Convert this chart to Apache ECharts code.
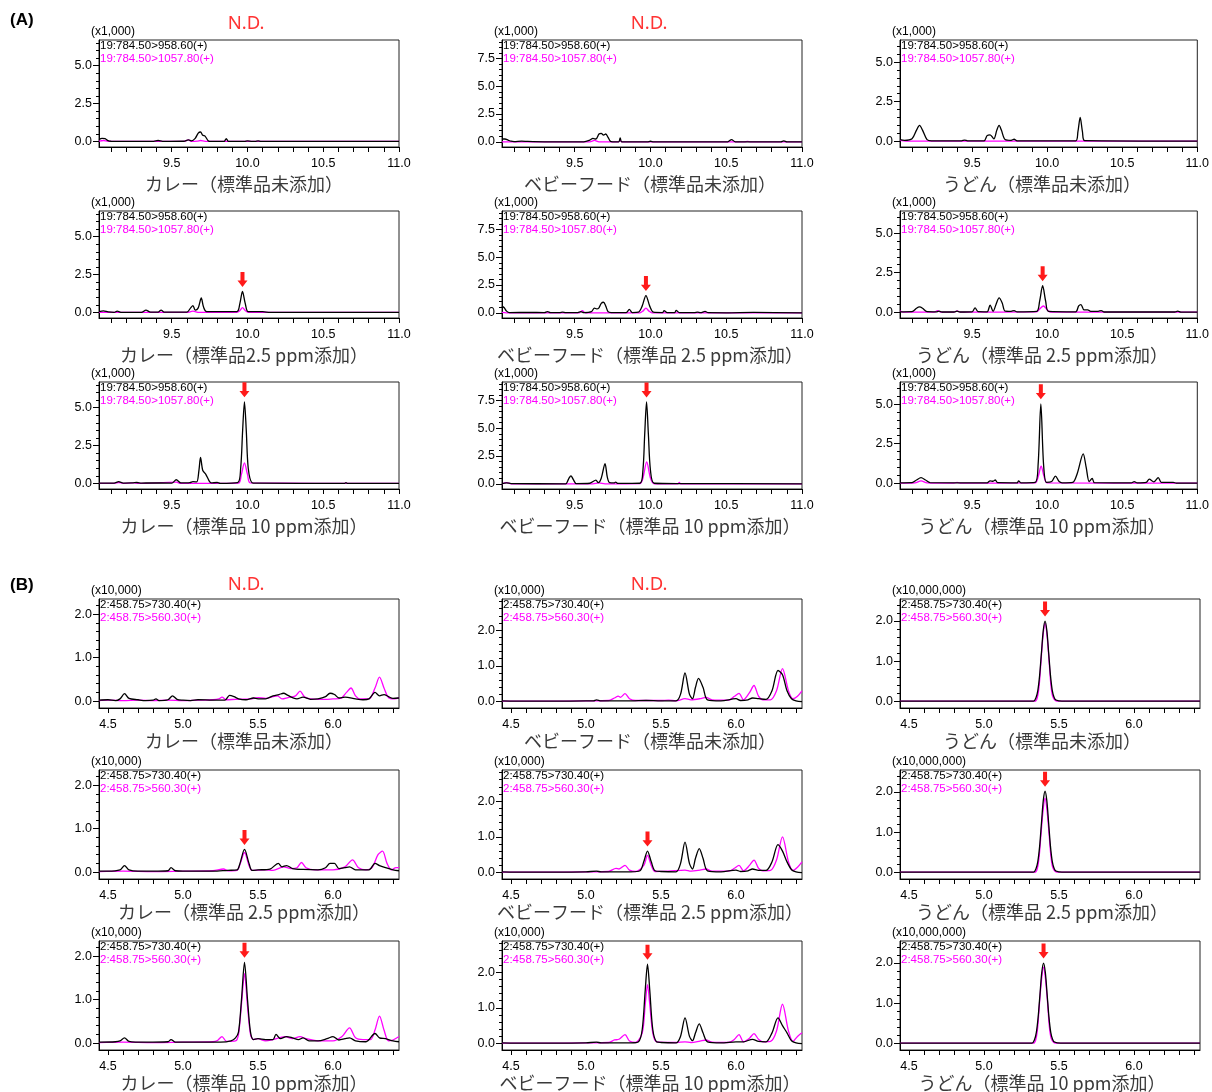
<!DOCTYPE html>
<html><head><meta charset="utf-8">
<script src="https://cdn.jsdelivr.net/npm/echarts@6/dist/echarts.min.js"></script>
<style>html,body{margin:0;padding:0;background:#fff}#c{width:1212px;height:1092px}</style>
</head><body><div id="c"></div>
<script>
// ---------------- DATA ----------------
const sectionLabels = ['(A)', '(B)'];
const titlesA = [
  ['カレー（標準品未添加）', 'カレー（標準品2.5 ppm添加）', 'カレー（標準品 10 ppm添加）'],
  ['ベビーフード（標準品未添加）', 'ベビーフード（標準品 2.5 ppm添加）', 'ベビーフード（標準品 10 ppm添加）'],
  ['うどん（標準品未添加）', 'うどん（標準品 2.5 ppm添加）', 'うどん（標準品 10 ppm添加）']
];
const titlesB = [
  ['カレー（標準品未添加）', 'カレー（標準品 2.5 ppm添加）', 'カレー（標準品 10 ppm添加）'],
  ['ベビーフード（標準品未添加）', 'ベビーフード（標準品 2.5 ppm添加）', 'ベビーフード（標準品 10 ppm添加）'],
  ['うどん（標準品未添加）', 'うどん（標準品 2.5 ppm添加）', 'うどん（標準品 10 ppm添加）']
];
const traceNamesA = ['19:784.50>958.60(+)', '19:784.50>1057.80(+)'];
const traceNamesB = ['2:458.75>730.40(+)', '2:458.75>560.30(+)'];
const scaleA = ['(x1,000)', '(x1,000)', '(x1,000)'];
const scaleB = ['(x10,000)', '(x10,000)', '(x10,000,000)'];
const ndMark = 'N.D.';

const xLabelsA = [9.5, 10.0, 10.5, 11.0];
const xTicksA = [9.1,9.2,9.3,9.4,9.5,9.6,9.7,9.8,9.9,10.0,10.1,10.2,10.3,10.4,10.5,10.6,10.7,10.8,10.9,11.0];
const xLabelsB = [4.5, 5.0, 5.5, 6.0];
const xTicksB = [4.5,4.6,4.7,4.8,4.9,5.0,5.1,5.2,5.3,5.4,5.5,5.6,5.7,5.8,5.9,6.0,6.1,6.2,6.3,6.4];
const yLabelsA = [[0, 2.5, 5.0], [0, 2.5, 5.0, 7.5], [0, 2.5, 5.0]];
const yMinorA = [[0.5,1,1.5,2,3,3.5,4,4.5,5.5,6,6.5], [0.5,1,1.5,2,3,3.5,4,4.5,5.5,6,6.5,7,8,8.5,9], [0.5,1,1.5,2,3,3.5,4,4.5,5.5,6]];
const yLabelsB = [[0, 1.0, 2.0], [0, 1.0, 2.0], [0, 1.0, 2.0]];
const yMinorB = [[0.2,0.4,0.6,0.8,1.2,1.4,1.6,1.8,2.2], [0.2,0.4,0.6,0.8,1.2,1.4,1.6,1.8,2.2,2.4,2.6,2.8], [0.2,0.4,0.6,0.8,1.2,1.4,1.6,1.8,2.2,2.4]];

// (A) curry
const A_curry0_q = [[9.02,0.12],[9.04,0.2],[9.06,0.18],[9.08,0.05],[9.10,0.01],[9.38,0.0],[9.41,0.06],[9.44,0.0],[9.58,0.01],[9.61,0.1],[9.63,0.04],[9.655,0.2],[9.675,0.55],[9.69,0.62],[9.705,0.4],[9.72,0.35],[9.74,0.05],[9.76,0.0],[9.845,0.0],[9.86,0.18],[9.875,0.0],[9.98,0.0],[10.0,0.04],[10.03,0.0],[10.05,0.0],[10.07,0.04],[10.09,0],[11.0,0]];
const A_curry0_r = [[9.02,0.02],[9.05,0.06],[9.08,0],[9.58,0],[9.61,0.1],[9.63,0],[9.67,0.02],[9.69,0.06],[9.72,0],[11.0,0]];
const A_curry1_q = [[9.02,0.05],[9.05,0.1],[9.08,0.03],[9.12,0.0],[9.14,0.08],[9.17,0],[9.30,0],[9.33,0.15],[9.36,0.02],[9.41,0.02],[9.43,0.15],[9.45,0.02],[9.6,0.02],[9.625,0.3],[9.64,0.45],[9.655,0.15],[9.675,0.3],[9.695,0.95],[9.71,0.35],[9.73,0.05],[9.93,0.05],[9.95,0.6],[9.967,1.38],[9.985,0.6],[10.005,0.05],[10.1,0.05],[10.15,0],[11.0,0]];
const A_curry1_r = [[9.02,0],[9.6,0],[9.64,0.08],[9.68,0],[9.93,0],[9.95,0.12],[9.967,0.32],[9.985,0.12],[10.005,0],[11.0,0]];
const A_curry2_q = [[9.02,0.02],[9.12,0.02],[9.15,0.12],[9.18,0.02],[9.24,0.03],[9.27,0.06],[9.3,0.02],[9.36,0.03],[9.5,0.02],[9.53,0.24],[9.56,0.03],[9.62,0.05],[9.64,0.12],[9.665,0.1],[9.68,0.9],[9.69,1.72],[9.705,0.85],[9.725,0.6],[9.745,0.2],[9.76,0.03],[9.8,0.06],[9.82,0],[9.935,0.05],[9.955,1.0],[9.968,3.5],[9.98,5.39],[9.992,3.5],[10.005,1.0],[10.03,0.05],[10.06,0.02],[10.64,0.0],[10.65,0.05],[10.66,0],[11.0,0]];
const A_curry2_r = [[9.02,0],[9.12,0],[9.15,0.06],[9.18,0],[9.25,0.04],[9.28,0],[9.53,0.08],[9.56,0],[9.94,0.02],[9.96,0.6],[9.98,1.35],[10.0,0.6],[10.02,0.03],[11.0,0]];
// (A) baby food
const A_baby0_q = [[9.02,0.25],[9.04,0.25],[9.06,0.15],[9.08,0.05],[9.1,0.02],[9.15,0.06],[9.19,0.03],[9.3,0.0],[9.56,0.0],[9.6,0.15],[9.62,0.3],[9.64,0.25],[9.66,0.7],[9.675,0.75],[9.69,0.6],[9.705,0.7],[9.72,0.4],[9.735,0.05],[9.75,0.0],[9.79,0.0],[9.8,0.35],[9.81,0.0],[9.98,0],[10.0,0.05],[10.02,0],[10.51,0],[10.535,0.2],[10.56,0],[10.86,0],[10.88,0.08],[10.9,0],[11.0,0]];
const A_baby0_r = [[9.02,0],[9.6,0],[9.63,0.12],[9.66,0],[9.79,0],[9.8,0.1],[9.81,0],[10.62,0],[10.64,0.04],[10.66,0],[11.0,0]];
const A_baby1_q = [[9.02,0.6],[9.035,0.45],[9.05,0.15],[9.07,0.02],[9.2,0.03],[9.3,0.02],[9.32,0.1],[9.34,0.02],[9.4,0.02],[9.42,0.06],[9.44,0.01],[9.52,0.02],[9.54,0.1],[9.56,0.02],[9.61,0.1],[9.63,0.42],[9.645,0.35],[9.66,0.45],[9.675,0.85],[9.69,0.95],[9.705,0.6],[9.72,0.1],[9.74,0.02],[9.84,0.02],[9.86,0.3],[9.88,0.02],[9.92,0.05],[9.945,0.6],[9.97,1.55],[9.995,0.6],[10.02,0.05],[10.08,0.02],[10.09,0.2],[10.11,0.02],[10.16,0.02],[10.17,0.22],[10.19,0.02],[10.29,0.02],[10.31,0.06],[10.33,0.01],[10.36,0.12],[10.38,0.01],[10.5,0],[10.68,0.03],[11.0,0]];
const A_baby1_r = [[9.02,0.04],[9.05,0],[9.53,0],[9.55,0.2],[9.57,0],[9.93,0],[9.95,0.15],[9.97,0.42],[9.99,0.15],[10.01,0],[11.0,0]];
const A_baby2_q = [[9.02,0.02],[9.05,0.08],[9.08,0.02],[9.44,0.0],[9.46,0.45],[9.475,0.72],[9.49,0.4],[9.51,0.02],[9.6,0.05],[9.64,0.33],[9.655,0.1],[9.675,0.5],[9.70,1.82],[9.715,0.6],[9.73,0.1],[9.76,0.08],[9.77,0.15],[9.785,0.03],[9.93,0.05],[9.95,1.2],[9.962,4.5],[9.974,7.37],[9.986,4.5],[10.0,1.2],[10.025,0.05],[10.2,0.02],[11.0,0]];
const A_baby2_r = [[9.02,0],[9.05,0.1],[9.08,0],[9.62,0],[9.66,0.08],[9.7,0],[9.93,0.02],[9.95,0.5],[9.975,1.97],[10.0,0.5],[10.025,0],[10.18,0],[10.19,0.12],[10.2,0],[11.0,0]];
// (A) udon
const A_udon0_q = [[9.02,0.1],[9.05,0.05],[9.1,0.15],[9.13,0.7],[9.15,1.0],[9.17,0.7],[9.2,0.1],[9.23,0.02],[9.43,0.02],[9.45,0.07],[9.47,0.02],[9.58,0.02],[9.6,0.35],[9.62,0.4],[9.645,0.15],[9.665,0.7],[9.68,1.0],[9.695,0.7],[9.72,0.1],[9.76,0.05],[9.78,0.12],[9.8,0.02],[10.19,0.02],[10.205,0.6],[10.22,1.5],[10.235,0.6],[10.25,0.03],[11.0,0]];
const A_udon0_r = [[9.02,0.05],[9.06,0],[11.0,0]];
const A_udon1_q = [[9.02,0.02],[9.1,0.03],[9.13,0.25],[9.15,0.33],[9.17,0.25],[9.2,0.03],[9.26,0.02],[9.28,0.06],[9.3,0.01],[9.38,0.01],[9.4,0.06],[9.42,0.01],[9.5,0.02],[9.52,0.27],[9.54,0.03],[9.6,0.02],[9.62,0.45],[9.64,0.05],[9.66,0.5],[9.68,0.9],[9.7,0.6],[9.72,0.06],[9.76,0.05],[9.78,0.1],[9.8,0.02],[9.93,0.05],[9.95,0.7],[9.97,1.67],[9.99,0.7],[10.01,0.05],[10.19,0.02],[10.21,0.4],[10.225,0.48],[10.245,0.15],[10.27,0.15],[10.29,0.05],[10.34,0.05],[10.36,0.1],[10.38,0.01],[10.85,0.01],[10.87,0.06],[10.89,0],[11.0,0]];
const A_udon1_r = [[9.02,0.08],[9.04,0],[9.25,0],[9.27,0.1],[9.29,0],[9.38,0],[9.4,0.08],[9.42,0],[9.93,0.02],[9.95,0.2],[9.975,0.39],[10.0,0.15],[10.02,0],[11.0,0]];
const A_udon2_q = [[9.02,0.02],[9.1,0.03],[9.13,0.2],[9.16,0.35],[9.19,0.2],[9.22,0.03],[9.6,0.02],[9.62,0.15],[9.64,0.12],[9.655,0.2],[9.67,0.03],[9.8,0.02],[9.81,0.15],[9.825,0.02],[9.92,0.05],[9.94,1.2],[9.958,5.02],[9.976,1.2],[9.995,0.05],[10.03,0.1],[10.055,0.45],[10.08,0.1],[10.1,0.02],[10.17,0.05],[10.2,0.6],[10.24,1.85],[10.26,1.0],[10.28,0.1],[10.3,0.3],[10.315,0.03],[10.56,0.02],[10.58,0.1],[10.6,0.02],[10.66,0.05],[10.68,0.25],[10.71,0.08],[10.74,0.35],[10.76,0.05],[10.8,0.05],[10.84,0.05],[10.86,0],[11.0,0]];
const A_udon2_r = [[9.02,0],[9.12,0.02],[9.16,0.15],[9.2,0.02],[9.38,0],[9.4,0.05],[9.42,0],[9.92,0.02],[9.94,0.4],[9.96,1.07],[9.98,0.4],[10.0,0.02],[11.0,0]];

// (B) curry
const B_curry0_q = [[4.44,0.02],[4.5,0.03],[4.55,0.01],[4.58,0.05],[4.61,0.17],[4.64,0.06],[4.7,0.03],[4.75,0.01],[4.8,0.02],[4.82,0.05],[4.84,0.01],[4.9,0.03],[4.93,0.12],[4.96,0.04],[5.0,0.02],[5.05,0.01],[5.1,0.03],[5.2,0.02],[5.28,0.02],[5.31,0.13],[5.34,0.1],[5.37,0.05],[5.42,0.03],[5.47,0.07],[5.5,0.05],[5.55,0.05],[5.6,0.12],[5.64,0.15],[5.67,0.18],[5.7,0.13],[5.73,0.08],[5.76,0.05],[5.8,0.09],[5.85,0.04],[5.9,0.05],[5.95,0.1],[5.98,0.18],[6.01,0.15],[6.04,0.07],[6.08,0.09],[6.15,0.05],[6.2,0.03],[6.24,0.05],[6.28,0.2],[6.31,0.12],[6.34,0.15],[6.37,0.1],[6.4,0.06],[6.44,0.07]];
const B_curry0_r = [[4.44,0.01],[4.5,0.02],[4.6,0.01],[4.7,0.02],[4.8,0.01],[4.9,0.02],[5.0,0.01],[5.1,0.02],[5.2,0.03],[5.24,0.05],[5.26,0.09],[5.29,0.03],[5.35,0.04],[5.45,0.05],[5.5,0.08],[5.55,0.06],[5.6,0.1],[5.63,0.12],[5.66,0.05],[5.7,0.08],[5.75,0.12],[5.78,0.23],[5.81,0.1],[5.85,0.05],[5.95,0.04],[6.0,0.05],[6.05,0.06],[6.09,0.2],[6.12,0.3],[6.15,0.12],[6.18,0.05],[6.24,0.05],[6.28,0.3],[6.31,0.55],[6.34,0.3],[6.37,0.08],[6.41,0.05],[6.44,0.08]];
const B_curry1_q = [[4.44,0.02],[4.5,0.02],[4.58,0.05],[4.61,0.15],[4.64,0.05],[4.7,0.02],[4.8,0.02],[4.9,0.03],[4.92,0.1],[4.95,0.03],[5.0,0.02],[5.1,0.02],[5.2,0.02],[5.3,0.04],[5.36,0.05],[5.38,0.2],[5.41,0.52],[5.44,0.2],[5.46,0.04],[5.5,0.05],[5.58,0.07],[5.635,0.2],[5.66,0.12],[5.69,0.15],[5.73,0.08],[5.8,0.06],[5.9,0.05],[5.95,0.1],[5.98,0.2],[6.01,0.2],[6.04,0.08],[6.08,0.1],[6.11,0.12],[6.15,0.05],[6.24,0.05],[6.28,0.2],[6.31,0.15],[6.35,0.1],[6.4,0.05],[6.44,0.03]];
const B_curry1_r = [[4.44,0.01],[4.6,0.02],[4.8,0.01],[5.0,0.02],[5.2,0.03],[5.27,0.07],[5.3,0.03],[5.36,0.04],[5.38,0.18],[5.41,0.45],[5.44,0.15],[5.46,0.04],[5.55,0.05],[5.6,0.04],[5.67,0.12],[5.72,0.08],[5.76,0.1],[5.79,0.22],[5.82,0.1],[5.88,0.05],[6.0,0.05],[6.08,0.12],[6.13,0.28],[6.17,0.1],[6.22,0.05],[6.26,0.1],[6.3,0.4],[6.33,0.48],[6.36,0.2],[6.39,0.05],[6.42,0.1],[6.44,0.1]];
const B_curry2_q = [[4.44,0.02],[4.55,0.03],[4.58,0.05],[4.61,0.12],[4.64,0.04],[4.75,0.02],[4.9,0.03],[4.92,0.08],[4.95,0.02],[5.1,0.02],[5.25,0.02],[5.32,0.05],[5.35,0.12],[5.37,0.25],[5.39,1.0],[5.41,1.86],[5.43,1.0],[5.45,0.25],[5.47,0.08],[5.5,0.1],[5.55,0.08],[5.6,0.08],[5.62,0.2],[5.65,0.1],[5.69,0.15],[5.73,0.12],[5.77,0.08],[5.8,0.12],[5.84,0.05],[5.9,0.05],[5.96,0.1],[6.0,0.15],[6.04,0.07],[6.08,0.1],[6.11,0.12],[6.15,0.05],[6.22,0.03],[6.28,0.22],[6.31,0.12],[6.35,0.1],[6.4,0.05],[6.44,0.03]];
const B_curry2_r = [[4.44,0.01],[4.6,0.02],[4.8,0.01],[5.0,0.02],[5.2,0.03],[5.23,0.06],[5.26,0.15],[5.29,0.04],[5.35,0.05],[5.37,0.2],[5.39,0.9],[5.41,1.6],[5.43,0.85],[5.45,0.2],[5.47,0.08],[5.5,0.1],[5.55,0.05],[5.6,0.08],[5.68,0.15],[5.73,0.1],[5.78,0.15],[5.82,0.1],[5.86,0.07],[5.9,0.05],[6.0,0.05],[6.06,0.15],[6.11,0.35],[6.15,0.12],[6.2,0.08],[6.25,0.08],[6.28,0.3],[6.31,0.62],[6.34,0.3],[6.37,0.05],[6.4,0.07],[6.44,0.15]];
// (B) baby food
const B_baby0_q = [[4.44,0.02],[4.6,0.01],[4.8,0.01],[5.0,0.02],[5.05,0.02],[5.07,0.05],[5.1,0.02],[5.3,0.02],[5.4,0.03],[5.5,0.02],[5.6,0.02],[5.63,0.2],[5.66,0.8],[5.69,0.2],[5.71,0.08],[5.73,0.4],[5.75,0.65],[5.78,0.4],[5.81,0.05],[5.9,0.02],[6.0,0.08],[6.03,0.03],[6.08,0.05],[6.11,0.1],[6.15,0.08],[6.2,0.06],[6.24,0.3],[6.28,0.87],[6.31,0.75],[6.34,0.3],[6.37,0.08],[6.4,0.02],[6.44,0.0]];
const B_baby0_r = [[4.44,0.01],[4.7,0.01],[5.0,0.02],[5.15,0.03],[5.19,0.1],[5.215,0.15],[5.23,0.12],[5.26,0.22],[5.29,0.08],[5.33,0.03],[5.5,0.03],[5.55,0.04],[5.6,0.02],[5.66,0.08],[5.7,0.05],[5.76,0.08],[5.8,0.12],[5.84,0.05],[5.95,0.04],[5.99,0.15],[6.02,0.23],[6.05,0.05],[6.09,0.25],[6.12,0.45],[6.15,0.15],[6.18,0.05],[6.23,0.05],[6.27,0.3],[6.31,0.92],[6.35,0.3],[6.38,0.08],[6.41,0.15],[6.44,0.3]];
const B_baby1_q = [[4.44,0.02],[4.6,0.01],[4.8,0.01],[5.0,0.02],[5.07,0.04],[5.1,0.02],[5.3,0.02],[5.36,0.05],[5.385,0.3],[5.41,0.6],[5.435,0.3],[5.46,0.05],[5.5,0.03],[5.6,0.02],[5.63,0.25],[5.66,0.85],[5.69,0.25],[5.71,0.1],[5.73,0.4],[5.755,0.67],[5.78,0.4],[5.81,0.05],[5.9,0.02],[6.0,0.07],[6.03,0.03],[6.08,0.05],[6.11,0.1],[6.15,0.06],[6.2,0.06],[6.24,0.3],[6.28,0.78],[6.31,0.6],[6.34,0.3],[6.37,0.08],[6.4,0.02],[6.44,0.0]];
const B_baby1_r = [[4.44,0.01],[4.7,0.01],[5.0,0.02],[5.15,0.03],[5.2,0.12],[5.22,0.1],[5.26,0.2],[5.29,0.07],[5.33,0.03],[5.385,0.2],[5.41,0.48],[5.435,0.2],[5.46,0.03],[5.55,0.04],[5.66,0.07],[5.7,0.04],[5.76,0.07],[5.8,0.1],[5.84,0.04],[5.95,0.04],[5.99,0.12],[6.02,0.2],[6.05,0.05],[6.09,0.2],[6.12,0.35],[6.15,0.12],[6.18,0.05],[6.23,0.06],[6.27,0.35],[6.31,1.0],[6.35,0.3],[6.38,0.06],[6.41,0.15],[6.44,0.3]];
const B_baby2_q = [[4.44,0.02],[4.6,0.01],[4.8,0.01],[5.0,0.02],[5.07,0.04],[5.1,0.02],[5.3,0.02],[5.35,0.05],[5.375,0.4],[5.395,1.5],[5.41,2.22],[5.425,1.5],[5.445,0.4],[5.47,0.05],[5.5,0.03],[5.6,0.02],[5.63,0.2],[5.66,0.72],[5.69,0.2],[5.71,0.08],[5.73,0.3],[5.755,0.55],[5.78,0.3],[5.81,0.05],[5.9,0.02],[6.0,0.05],[6.05,0.05],[6.11,0.12],[6.15,0.06],[6.2,0.05],[6.24,0.3],[6.28,0.72],[6.31,0.5],[6.34,0.3],[6.37,0.08],[6.4,0.02],[6.44,0.0]];
const B_baby2_r = [[4.44,0.01],[4.7,0.01],[5.0,0.02],[5.15,0.03],[5.19,0.1],[5.22,0.12],[5.26,0.25],[5.29,0.07],[5.33,0.03],[5.375,0.3],[5.395,1.1],[5.41,1.65],[5.425,1.1],[5.445,0.3],[5.47,0.05],[5.6,0.03],[5.66,0.05],[5.7,0.03],[5.76,0.07],[5.8,0.1],[5.84,0.04],[5.95,0.03],[5.99,0.12],[6.02,0.25],[6.05,0.05],[6.09,0.15],[6.12,0.28],[6.15,0.12],[6.18,0.05],[6.23,0.06],[6.27,0.35],[6.31,1.1],[6.35,0.35],[6.38,0.06],[6.41,0.2],[6.44,0.3]];
// (B) udon
const B_udon0_q = [[4.44,0],[5.33,0],[5.347,0.09],[5.359,0.27],[5.371,0.65],[5.383,1.21],[5.395,1.76],[5.407,2.0],[5.419,1.76],[5.431,1.21],[5.443,0.65],[5.455,0.27],[5.467,0.1],[5.48,0.03],[5.52,0],[6.44,0]];
const B_udon0_r = [[4.44,0],[5.34,0],[5.356,0.1],[5.368,0.4],[5.38,1.0],[5.394,1.65],[5.407,1.95],[5.42,1.65],[5.434,1.0],[5.446,0.4],[5.458,0.12],[5.475,0.02],[5.5,0],[6.44,0]];
const B_udon1_q = [[4.44,0],[5.33,0],[5.347,0.09],[5.359,0.27],[5.371,0.65],[5.383,1.22],[5.395,1.78],[5.407,2.02],[5.419,1.78],[5.431,1.22],[5.443,0.65],[5.455,0.27],[5.467,0.1],[5.48,0.03],[5.52,0],[6.44,0]];
const B_udon1_r = [[4.44,0],[5.34,0],[5.356,0.1],[5.368,0.4],[5.38,0.95],[5.394,1.55],[5.407,1.85],[5.42,1.55],[5.434,0.95],[5.446,0.4],[5.458,0.12],[5.475,0.02],[5.5,0],[6.44,0]];
const B_udon2_q = [[4.44,0],[5.32,0],[5.337,0.09],[5.349,0.27],[5.361,0.65],[5.373,1.21],[5.385,1.76],[5.397,2.0],[5.409,1.76],[5.421,1.21],[5.433,0.65],[5.445,0.27],[5.457,0.1],[5.47,0.03],[5.51,0],[6.44,0]];
const B_udon2_r = [[4.44,0],[5.33,0],[5.346,0.1],[5.358,0.4],[5.37,1.0],[5.384,1.6],[5.397,1.9],[5.41,1.6],[5.424,1.0],[5.436,0.4],[5.448,0.12],[5.465,0.02],[5.49,0],[6.44,0]];

// arrow marks (peak apex of target compound)
const A_arrows = [[null, [9.967,1.38], [9.98,5.39]], [null, [9.97,1.55], [9.974,7.37]], [null, [9.97,1.67], [9.958,5.02]]];
const B_arrows = [[null, [5.41,0.52], [5.41,1.86]], [null, [5.41,0.6], [5.41,2.22]], [[5.407,2.0], [5.407,2.02], [5.397,2.0]]];
const A_nd = [true, true, false];
const B_nd = [true, true, false];

const A_data = [
  [[A_curry0_q, A_curry0_r], [A_curry1_q, A_curry1_r], [A_curry2_q, A_curry2_r]],
  [[A_baby0_q, A_baby0_r], [A_baby1_q, A_baby1_r], [A_baby2_q, A_baby2_r]],
  [[A_udon0_q, A_udon0_r], [A_udon1_q, A_udon1_r], [A_udon2_q, A_udon2_r]]
];
const B_data = [
  [[B_curry0_q, B_curry0_r], [B_curry1_q, B_curry1_r], [B_curry2_q, B_curry2_r]],
  [[B_baby0_q, B_baby0_r], [B_baby1_q, B_baby1_r], [B_baby2_q, B_baby2_r]],
  [[B_udon0_q, B_udon0_r], [B_udon1_q, B_udon1_r], [B_udon2_q, B_udon2_r]]
];

// ---------------- LAYOUT / STYLE ----------------
const colLeft = [99, 502, 900];
const titleCenter = [244, 650, 1042];
const GW = 300;
const sections = [
  { key: 'A', tops: [40, 211, 382], h: 107, titleGap: 37, xr: [9.02, 11.0], yr: [[-0.37, 6.7], [-0.47, 9.17], [-0.37, 6.4]],
    yLab: yLabelsA, yMin: yMinorA, xLab: xLabelsA, xTick: xTicksA, data: A_data, arrows: A_arrows, titles: titlesA,
    names: traceNamesA, scale: scaleA, nd: A_nd, label: sectionLabels[0], labelY: 20, ndY: 24 },
  { key: 'B', tops: [599, 770, 941], h: 109, titleGap: 33, xr: [4.44, 6.44], yr: [[-0.16, 2.35], [-0.18, 2.87], [-0.17, 2.55]],
    yLab: yLabelsB, yMin: yMinorB, xLab: xLabelsB, xTick: xTicksB, data: B_data, arrows: B_arrows, titles: titlesB,
    names: traceNamesB, scale: scaleB, nd: B_nd, label: sectionLabels[1], labelY: 585, ndY: 585 }
];
const BLACK = '#000000', MAG = '#ff00ff', RED = '#ff1a1a';
const ARROW = 'path://M3,0L7,0L7,8L10,8L5,14L0,8L3,8Z';
const numFont = '"Liberation Sans", Arial, sans-serif';
const jpFont = '"Noto Sans CJK JP", sans-serif';

const grids = [], xAxes = [], yAxes = [], series = [], graphics = [];
let gi = 0;
sections.forEach(sec => {
  graphics.push({ type: 'text', x: 10, y: sec.labelY, style: { text: sec.label, fill: '#000', font: 'bold 17px ' + numFont, textVerticalAlign: 'middle' } });
  for (let c = 0; c < 3; c++) {
    if (sec.nd[c]) {
      graphics.push({ type: 'text', x: colLeft[c] + 147, y: sec.ndY, style: { text: ndMark, fill: '#ff3333', font: '18.5px "Noto Sans", sans-serif', textAlign: 'center', textVerticalAlign: 'middle' } });
    }
    for (let r = 0; r < 3; r++) {
      const top = sec.tops[r];
      grids.push({ left: colLeft[c], top: top, width: GW, height: sec.h, show: true, borderColor: '#222', borderWidth: 1, backgroundColor: 'transparent' });
      xAxes.push({
        type: 'value', gridIndex: gi, min: sec.xr[0], max: sec.xr[1],
        axisLine: { show: true, onZero: false, lineStyle: { color: '#000', width: 1 } },
        axisTick: { show: true, length: 5, customValues: sec.xTick, lineStyle: { color: '#000' } },
        axisLabel: { show: true, customValues: sec.xLab, margin: 10, color: '#000', fontSize: 12.5, fontFamily: numFont,
          formatter: v => v.toFixed(1) },
        splitLine: { show: false }
      });
      yAxes.push({
        type: 'value', gridIndex: gi, min: sec.yr[c][0], max: sec.yr[c][1],
        axisLine: { show: true, onZero: false, lineStyle: { color: '#000', width: 1 } },
        axisTick: { show: true, length: 6, customValues: sec.yLab[c], lineStyle: { color: '#000' } },
        axisLabel: { show: true, customValues: sec.yLab[c], margin: 7, color: '#000', fontSize: 12.5, fontFamily: numFont,
          formatter: v => v.toFixed(1) },
        splitLine: { show: false }
      });
      yAxes.push({
        type: 'value', gridIndex: gi, min: sec.yr[c][0], max: sec.yr[c][1], position: 'left',
        axisLine: { show: false },
        axisTick: { show: true, length: 3, customValues: sec.yMin[c], lineStyle: { color: '#000' } },
        axisLabel: { show: false },
        splitLine: { show: false }
      });
      const [q, rr] = sec.data[c][r];
      series.push({ type: 'line', xAxisIndex: gi, yAxisIndex: 2 * gi, data: rr, showSymbol: false, smooth: 0.3,
        lineStyle: { color: MAG, width: 1.3 }, itemStyle: { color: MAG }, silent: true, z: 2 });
      const arrow = sec.arrows[c][r];
      series.push({ type: 'line', xAxisIndex: gi, yAxisIndex: 2 * gi, data: q, showSymbol: false, smooth: 0.3,
        lineStyle: { color: BLACK, width: 1.3 }, itemStyle: { color: BLACK }, silent: true, z: 3,
        markPoint: arrow ? { symbol: ARROW, symbolSize: [10, 15], symbolOffset: [0, -12], silent: true,
          itemStyle: { color: RED }, label: { show: false }, data: [{ coord: arrow }] } : undefined });
      // texts
      graphics.push({ type: 'text', x: colLeft[c] - 8, y: top - 8, style: { text: sec.scale[c], fill: '#000', font: '12px ' + numFont, textVerticalAlign: 'middle' } });
      graphics.push({ type: 'text', x: colLeft[c] + 1, y: top + 6, style: { text: sec.names[0], fill: BLACK, font: '11.5px ' + numFont, textVerticalAlign: 'middle' } });
      graphics.push({ type: 'text', x: colLeft[c] + 1, y: top + 19, style: { text: sec.names[1], fill: MAG, font: '11.5px ' + numFont, textVerticalAlign: 'middle' } });
      graphics.push({ type: 'text', x: titleCenter[c], y: top + sec.h + sec.titleGap, style: { text: sec.titles[c][r], fill: '#3a3a3a', font: '18px ' + jpFont, textAlign: 'center', textVerticalAlign: 'middle' } });
      gi++;
    }
  }
});

const chart = echarts.init(document.getElementById('c'), null, { renderer: 'canvas' });
chart.setOption({
  animation: false,
  backgroundColor: '#ffffff',
  grid: grids, xAxis: xAxes, yAxis: yAxes, series: series, graphic: graphics
});
</script></body></html>
